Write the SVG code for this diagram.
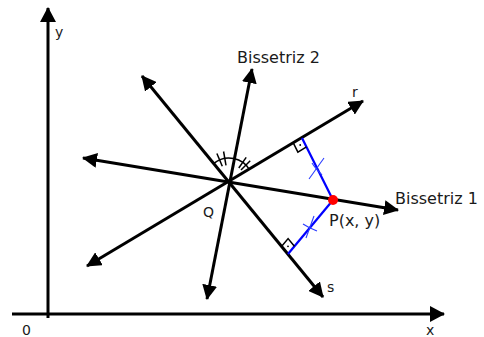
<svg xmlns="http://www.w3.org/2000/svg" width="484" height="337" viewBox="0 0 484 337">
<style>
.ln{stroke:#000;stroke-width:3;fill:none}
.arr{marker-end:url(#ah);marker-start:url(#ah)}
.bl{stroke:#0000ff;stroke-width:2.2;fill:none}
.tk{stroke:#2a3cff;stroke-width:1.1;fill:none}
.thin{stroke:#000;stroke-width:1.5;fill:none}
text{font-family:"DejaVu Sans",sans-serif;fill:#1a1a1a}
.big{font-size:16px}
.sm{font-size:14px}
</style>
<defs>
<marker id="ah" viewBox="0 0 15 15" refX="14" refY="7.5" markerWidth="15" markerHeight="15" markerUnits="userSpaceOnUse" orient="auto-start-reverse">
<path d="M0,0 L15,7.5 L0,15 z" fill="#000"/>
</marker>
<marker id="ax" viewBox="0 0 15 16" refX="14" refY="8" markerWidth="15" markerHeight="16" markerUnits="userSpaceOnUse" orient="auto">
<path d="M0,0 L15,8 L0,16 z" fill="#000"/>
</marker>
</defs>
<g id="axes">
<line class="ln" x1="48" y1="318" x2="48" y2="8" marker-end="url(#ax)"/>
<line class="ln" x1="12" y1="314" x2="444" y2="314" marker-end="url(#ax)"/>
<text class="sm" x="55" y="37">y</text>
<text class="sm" x="22" y="335">0</text>
<text class="sm" x="426" y="335">x</text>
</g>
<g id="connectors">
<line id="line-r" class="ln arr" x1="87" y1="266" x2="363" y2="101"/>
<line id="line-s" class="ln arr" x1="142" y1="76" x2="323" y2="297"/>
<line id="bissetriz1" class="ln arr" x1="83" y1="158" x2="398" y2="210"/>
<line id="bissetriz2" class="ln arr" x1="252" y1="69" x2="207" y2="299"/>
<line class="bl" x1="333" y1="200" x2="302" y2="138"/>
<line class="bl" x1="333" y1="200" x2="288" y2="254"/>
</g>
<g id="right-angles">
<polyline class="thin" points="293.4,143.1 297.9,152.1 306.5,146.9"/>
<circle cx="300.2" cy="145" r="0.9" fill="#000"/>
<polyline class="thin" points="281.7,246.3 288.1,238.6 294.4,246.3"/>
<circle cx="288" cy="246.3" r="0.9" fill="#000"/>
</g>
<g id="equal-marks">
<path class="tk" d="M309,179 L324,158"/>
<path class="tk" d="M312,163 Q315,168 322,175"/>
<path class="tk" d="M306,238 L314,216"/>
<path class="tk" d="M303,224 Q309,228 317,231"/>
</g>
<g id="angle-marks">
<path class="thin" d="M213.8,163.4 A24,24 0 0,1 233.8,158.5 A24,24 0 0,1 249.5,169.6"/>
<line class="thin" x1="222.3" y1="166.3" x2="216.9" y2="153.5"/>
<line class="thin" x1="226" y1="165.3" x2="223.6" y2="151.5"/>
<line class="thin" x1="238.8" y1="168" x2="246.2" y2="157.4"/>
<line class="thin" x1="241" y1="170" x2="250.2" y2="160.8"/>
</g>
<g id="Q">
<text class="sm" x="203" y="217">Q</text>
</g>
<g id="P">
<circle cx="333" cy="200" r="5" fill="#ff0000"/>
<text class="big" x="329" y="226">P(x, y)</text>
</g>
<g id="labels">
<text class="big" x="237" y="63">Bissetriz 2</text>
<text class="sm" x="352" y="97">r</text>
<text class="big" x="395" y="204">Bissetriz 1</text>
<text class="sm" x="327" y="292">s</text>
</g>
</svg>
